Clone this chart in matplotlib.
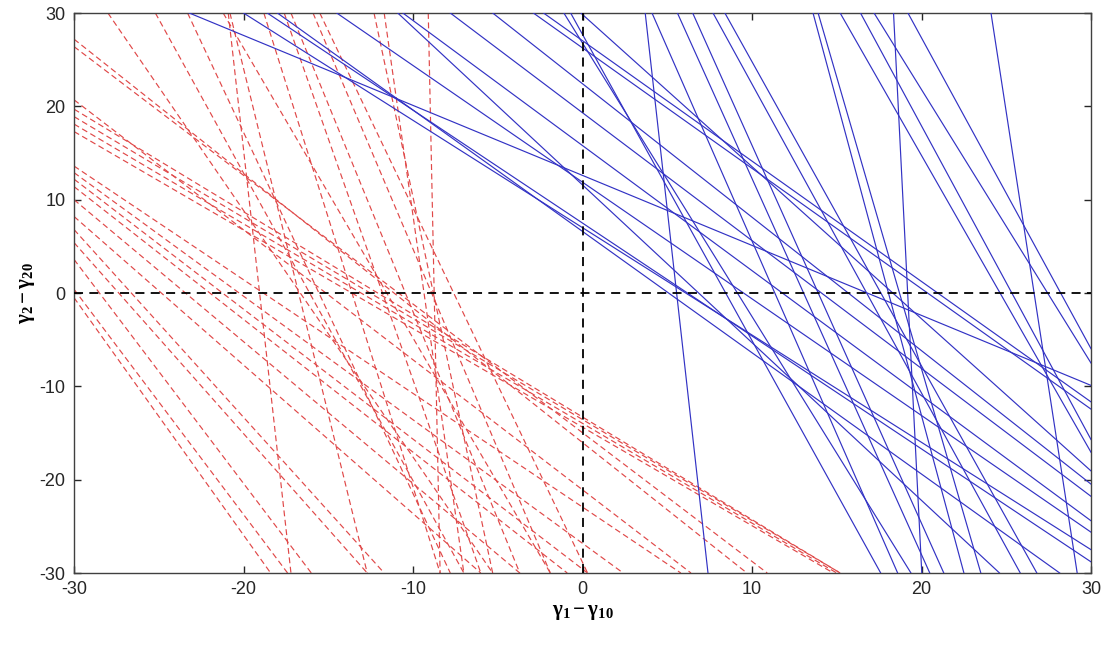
import matplotlib
matplotlib.use("Agg")
import matplotlib.pyplot as plt

# ---- data ----
# blue solid lines: x where each line meets gamma2-gamma20 = 30, and its slope
blue_top_x = [-23.2, -20.0, -18.6, -18.0, -14.5, -10.9, -10.6, -7.8, -5.3, -2.9,
              -2.3, -1.1, -0.7, -0.1, 3.7, 4.1, 5.6, 6.5, 7.7, 8.4,
              13.6, 13.9, 15.2, 16.4, 17.2, 18.35, 19.2, 24.1]
blue_slope = [-0.75, -1.15, -1.21, -1.30, -1.25, -1.69, -1.34, -1.37, -1.43, -1.29,
              -1.29, -2.93, -3.28, -1.63, -16.2, -4.14, -4.03, -4.05, -3.31, -3.26,
              -6.74, -6.25, -3.18, -3.36, -2.93, -36.0, -3.33, -11.8]

# red dashed lines: entry point and x where each line meets gamma2-gamma20 = -30
red_in_x = [-30, -30, -30, -30, -30, -30, -30, -30, -30, -30, -30, -30, -30, -30,
            -30, -30, -30, -30, -28.0, -25.2, -23.3, -21.2, -20.9, -20.8, -18.8,
            -17.6, -17.2, -15.9, -15.5, -12.3, -11.7, -9.1]
red_in_y = [27.2, 26.4, 19.7, 18.9, 18.1, 17.3, 20.7, 13.6, 12.9, 12.2, 11.4, 10.0,
            8.2, 6.8, 5.4, 3.6, 0.4, -0.5, 30, 30, 30, 30, 30, 30, 30,
            30, 30, 30, 30, 30, 30, 30]
red_out_x = [9.7, 10.9, 15.2, 15.2, 15.0, 14.8, 6.4, 5.8, 2.4, 0.3, -0.9, -3.7,
             -6.0, -11.7, -12.7, -16.0, -17.4, -18.4, -5.3, -7.0, -7.8, -1.9, -17.2,
             -12.7, -8.4, -6.0, -3.7, -1.9, 0.3, -5.3, -7.0, -8.4]

x_ticks = [-30, -20, -10, 0, 10, 20, 30]
y_ticks = [-30, -20, -10, 0, 10, 20, 30]
x_label = r'$\mathbf{\gamma_1 - \gamma_{10}}$'
y_label = r'$\mathbf{\gamma_2 - \gamma_{20}}$'

# ---- figure ----
plt.rcParams['axes.unicode_minus'] = False
plt.rcParams['mathtext.fontset'] = 'custom'
plt.rcParams['mathtext.rm'] = 'Liberation Serif'
plt.rcParams['mathtext.it'] = 'Liberation Serif:italic'
plt.rcParams['mathtext.bf'] = 'Liberation Serif:bold'

fig = plt.figure(figsize=(11.07, 6.45), dpi=100)
ax = fig.add_axes([74 / 1107, 1 - 573 / 645, (1091 - 74) / 1107, (573 - 13) / 645])

for xi, yi, xo in zip(red_in_x, red_in_y, red_out_x):
    ax.axline((xi, yi), (xo, -30), color='#e04848', lw=0.85,
              linestyle=(0, (5, 3)), zorder=2)

for xt, m in zip(blue_top_x, blue_slope):
    ax.axline((xt, 30), slope=m, color='#3232c4', lw=0.85, zorder=3)

ax.axhline(0, color='black', lw=1.3, linestyle=(0, (5, 3.5)), zorder=4)
ax.axvline(0, color='black', lw=1.3, linestyle=(0, (5, 3.5)), zorder=4)

ax.set_xlim(-30, 30)
ax.set_ylim(-30, 30)
ax.set_xticks(x_ticks)
ax.set_yticks(y_ticks)
ax.tick_params(direction='in', top=True, right=True, length=5, width=1,
               labelsize=13, colors='#262626', pad=6)
for lab in ax.get_xticklabels() + ax.get_yticklabels():
    lab.set_fontfamily('Liberation Sans')
for sp in ax.spines.values():
    sp.set_color('#404040')
    sp.set_linewidth(1.0)

ax.set_xlabel(x_label, fontsize=15, labelpad=3)
ax.set_ylabel(y_label, fontsize=15, labelpad=2)

fig.savefig('out.png', dpi=100, facecolor='white')
